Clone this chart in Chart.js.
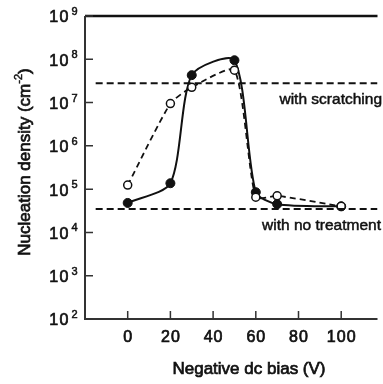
<!DOCTYPE html>
<html lang="en">
<head>
<meta charset="utf-8">
<title>Nucleation density vs negative dc bias</title>
<script src="https://cdn.jsdelivr.net/npm/chart.js@4/dist/chart.umd.min.js"></script>
<style>
  html, body { margin: 0; padding: 0; background: #fff; }
</style>
</head>
<body>
<canvas id="nucleation" width="383" height="384"></canvas>
<script>
    // values
    const biasVolts = [0, 20, 30, 50, 60, 70, 100];
    const filledDensity = [4.8e4, 1.37e5, 4.3e7, 9.5e7, 8.5e4, 4.5e4, 4.0e4];
    const openDensity = [1.24e5, 9.5e6, 2.25e7, 5.6e7, 6.5e4, 7.0e4, 4.0e4];
    const scratchingLevel = 2.8e7;
    const noTreatmentLevel = 3.5e4;
    const levelFrom = -15, levelTo = 117;
    const xTickValues = [0, 20, 40, 60, 80, 100];
    const yTickExponents = [2, 3, 4, 5, 6, 7, 8, 9];

    const toPoints = (xs, ys) => xs.map((v, i) => ({x: v, y: ys[i]}));
    const levelLine = lvl => [{x: levelFrom, y: lvl}, {x: levelTo, y: lvl}];

    const FONT = '"Liberation Sans", Arial, Helvetica, sans-serif';
    const INK = '#111';

    // regular face with a thin outline, to get the medium weight of the scan
    function heavyText(ctx, txt, x, y, stroke) {
        ctx.fillText(txt, x, y);
        ctx.lineWidth = stroke;
        ctx.strokeText(txt, x, y);
    }

    const framePlugin = {
        id: 'frame',
        afterDraw(chart) {
            const {ctx, chartArea: a, scales: {x, y}} = chart;
            ctx.save();
            ctx.strokeStyle = INK;
            ctx.fillStyle = INK;

            // top line
            ctx.lineWidth = 2.5;
            ctx.beginPath();
            ctx.moveTo(a.left, a.top);
            ctx.lineTo(a.right, a.top);
            ctx.stroke();

            // left and bottom axes
            ctx.strokeStyle = '#333';
            ctx.lineWidth = 2;
            ctx.beginPath();
            ctx.moveTo(a.left, a.top);
            ctx.lineTo(a.left, a.bottom);
            ctx.lineTo(a.right, a.bottom);
            ctx.stroke();

            // inward ticks
            ctx.lineWidth = 1.5;
            ctx.beginPath();
            xTickValues.forEach(v => {
                const px = x.getPixelForValue(v);
                ctx.moveTo(px, a.bottom);
                ctx.lineTo(px, a.bottom - 8);
            });
            yTickExponents.forEach(e => {
                const py = y.getPixelForValue(Math.pow(10, e));
                ctx.moveTo(a.left, py);
                ctx.lineTo(a.left + 8, py);
            });
            ctx.stroke();
            ctx.strokeStyle = INK;

            // x tick labels
            ctx.font = '16px ' + FONT;
            ctx.letterSpacing = '1px';
            ctx.textAlign = 'center';
            ctx.textBaseline = 'middle';
            xTickValues.forEach(v => heavyText(ctx, String(v), x.getPixelForValue(v) + 0.5, 338, 0.7));

            // y tick labels: 10 with superscript exponent
            yTickExponents.forEach(e => {
                const py = y.getPixelForValue(Math.pow(10, e));
                ctx.font = '16px ' + FONT;
                ctx.letterSpacing = '1.5px';
                ctx.textAlign = 'right';
                ctx.textBaseline = 'middle';
                heavyText(ctx, '10', 70, py + 2, 0.7);
                ctx.font = '11px ' + FONT;
                ctx.letterSpacing = '0px';
                ctx.textAlign = 'left';
                heavyText(ctx, String(e), 71.5, py - 4, 0.5);
            });
            ctx.letterSpacing = '0px';

            // x axis title
            ctx.font = '17px ' + FONT;
            ctx.textAlign = 'center';
            ctx.textBaseline = 'middle';
            heavyText(ctx, 'Negative dc bias (V)', 249, 369, 0.7);

            // y axis title, rotated
            ctx.save();
            ctx.translate(25, 162);
            ctx.rotate(-Math.PI / 2);
            const main = 'Nucleation density (cm';
            ctx.font = '17px ' + FONT;
            const wMain = ctx.measureText(main).width;
            ctx.font = '11px ' + FONT;
            const wSup = ctx.measureText('-2').width;
            ctx.font = '17px ' + FONT;
            const wClose = ctx.measureText(')').width;
            let sx = -(wMain + wSup + wClose) / 2;
            ctx.textAlign = 'left';
            ctx.textBaseline = 'middle';
            heavyText(ctx, main, sx, 0, 0.7);
            sx += wMain;
            ctx.font = '11px ' + FONT;
            heavyText(ctx, '-2', sx, -6, 0.5);
            sx += wSup;
            ctx.font = '17px ' + FONT;
            heavyText(ctx, ')', sx, 0, 0.7);
            ctx.restore();

            // level annotations
            ctx.font = '15.5px ' + FONT;
            ctx.textAlign = 'right';
            ctx.textBaseline = 'middle';
            heavyText(ctx, 'with scratching', 382, 100, 0.5);
            heavyText(ctx, 'with no treatment', 381, 226, 0.5);

            ctx.restore();
        }
    };

    new Chart('nucleation', {
        type: 'line',
        data: {
            datasets: [
                {
                    label: 'with scratching',
                    data: levelLine(scratchingLevel),
                    borderColor: INK,
                    borderWidth: 2,
                    borderDash: [7, 4],
                    pointRadius: 0
                },
                {
                    label: 'with no treatment',
                    data: levelLine(noTreatmentLevel),
                    borderColor: INK,
                    borderWidth: 2,
                    borderDash: [7, 4],
                    pointRadius: 0
                },
                {
                    label: 'open',
                    data: toPoints(biasVolts, openDensity),
                    borderColor: INK,
                    borderWidth: 1.8,
                    borderDash: [6, 4],
                    tension: 0.2,
                    pointRadius: 4,
                    pointBorderWidth: 1.5,
                    pointBackgroundColor: '#fff',
                    pointBorderColor: INK
                },
                {
                    label: 'filled',
                    data: toPoints(biasVolts, filledDensity),
                    borderColor: INK,
                    borderWidth: 2,
                    tension: 0.25,
                    pointRadius: 4.5,
                    pointBorderWidth: 1,
                    pointBackgroundColor: INK,
                    pointBorderColor: INK
                }
            ]
        },
        options: {
            responsive: false,
            animation: false,
            devicePixelRatio: 1,
            layout: {padding: {left: 85, top: 16, right: 0, bottom: 65}},
            plugins: {
                legend: {display: false},
                tooltip: {enabled: false}
            },
            scales: {
                x: {type: 'linear', min: -20, max: 117, display: false},
                y: {type: 'logarithmic', min: 1e2, max: 1e9, display: false}
            }
        },
        plugins: [framePlugin]
    });
</script>
</body>
</html>
